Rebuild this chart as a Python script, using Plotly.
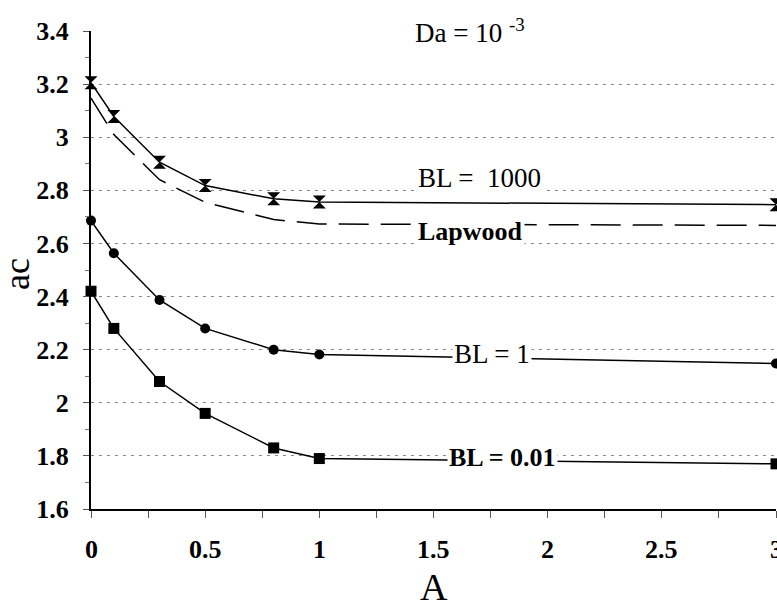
import plotly.graph_objects as go

A = [0, 0.1, 0.3, 0.5, 0.8, 1.0, 3.0]
bl1000 = [3.205, 3.078, 2.906, 2.818, 2.768, 2.756, 2.746]
lapwood = [3.147, 3.01, 2.84, 2.755, 2.69, 2.673, 2.668]
bl1 = [2.686, 2.563, 2.387, 2.28, 2.2, 2.182, 2.148]
bl001 = [2.42, 2.28, 2.08, 1.96, 1.83, 1.79, 1.77]

yticks = [1.6, 1.8, 2.0, 2.2, 2.4, 2.6, 2.8, 3.0, 3.2, 3.4]
yticklabels = ["1.6", "1.8", "2", "2.2", "2.4", "2.6", "2.8", "3", "3.2", "3.4"]
xticks = [0, 0.5, 1, 1.5, 2, 2.5, 3]
xticklabels = ["0", "0.5", "1", "1.5", "2", "2.5", "3"]

SERIF = "Liberation Serif"

fig = go.Figure()
fig.add_trace(go.Scatter(x=A, y=lapwood, mode="lines",
                         line=dict(color="black", width=1.5, dash="30px,12px"),
                         cliponaxis=False, showlegend=False))
fig.add_trace(go.Scatter(x=A, y=bl1000, mode="lines+markers",
                         line=dict(color="black", width=1.5),
                         marker=dict(symbol="hourglass", size=13, color="black"),
                         cliponaxis=False, showlegend=False))
fig.add_trace(go.Scatter(x=A, y=bl1, mode="lines+markers",
                         line=dict(color="black", width=1.5),
                         marker=dict(symbol="circle", size=10, color="black"),
                         cliponaxis=False, showlegend=False))
fig.add_trace(go.Scatter(x=A, y=bl001, mode="lines+markers",
                         line=dict(color="black", width=1.5),
                         marker=dict(symbol="square", size=11, color="black"),
                         cliponaxis=False, showlegend=False))

tickfont = dict(family=SERIF, size=26, color="black", weight="bold")

fig.update_layout(
    width=777, height=602,
    margin=dict(l=91, r=1, t=31, b=93),
    paper_bgcolor="white", plot_bgcolor="white",
    font=dict(family=SERIF, color="black"),
    xaxis=dict(range=[0, 3], tickvals=xticks, ticktext=[""] * len(xticks),
               showgrid=False, zeroline=False,
               showline=True, linecolor="black", linewidth=2,
               ticks="outside", ticklen=7, tickcolor="#555", tickwidth=1,
               minor=dict(tickvals=[0.25, 0.75, 1.25, 1.75, 2.25, 2.75],
                          ticks="outside", ticklen=7, tickcolor="#555"),
               tickfont=tickfont),
    yaxis=dict(range=[1.6, 3.4], tickvals=yticks, ticktext=yticklabels,
               showgrid=True, gridcolor="#888", gridwidth=1, griddash="3px,5px",
               zeroline=False,
               showline=True, linecolor="black", linewidth=2,
               ticks="outside", ticklen=6, tickcolor="#555", tickwidth=1,
               ticklabelstandoff=9,
               minor=dict(tickvals=[1.7, 1.9, 2.1, 2.3, 2.5, 2.7, 2.9, 3.1, 3.3],
                          ticks="outside", ticklen=4, tickcolor="#777"),
               tickfont=tickfont),
)

ann = []
# x tick labels, placed at the axis tick positions
for xv, lab in zip(xticks, xticklabels):
    ann.append(dict(x=xv, y=0, xref="x", yref="paper", text="<b>" + lab + "</b>",
                    showarrow=False, font=dict(family=SERIF, size=26),
                    xanchor="center", yanchor="middle", yshift=-40))
ann += [
    dict(x=0.5, y=0, xref="paper", yref="paper", text="A", showarrow=False,
         font=dict(family=SERIF, size=38), xanchor="center", yanchor="middle", yshift=-78),
    dict(x=0, y=0.5, xref="paper", yref="paper", text="ac", showarrow=False,
         font=dict(family=SERIF, size=36), textangle=-90, xanchor="center",
         yanchor="middle", xshift=-74, yshift=-4),
    dict(x=1.66, y=3.40, text="Da = 10 <sup>-3</sup>", showarrow=False,
         font=dict(family=SERIF, size=27), xanchor="center", yanchor="middle"),
    dict(x=1.70, y=2.845, text="BL =  1000", showarrow=False,
         font=dict(family=SERIF, size=27), xanchor="center", yanchor="middle",
         bgcolor="white"),
    dict(x=1.66, y=2.645, text="<b>Lapwood</b>", showarrow=False,
         font=dict(family=SERIF, size=26), xanchor="center", yanchor="middle",
         bgcolor="white"),
    dict(x=1.757, y=2.185, text="BL = 1", showarrow=False,
         font=dict(family=SERIF, size=27), xanchor="center", yanchor="middle",
         bgcolor="white"),
    dict(x=1.80, y=1.795, text="<b>BL = 0.01</b>", showarrow=False,
         font=dict(family=SERIF, size=26), xanchor="center", yanchor="middle",
         bgcolor="white"),
]
fig.update_layout(annotations=ann)

fig.write_html("out.html")
